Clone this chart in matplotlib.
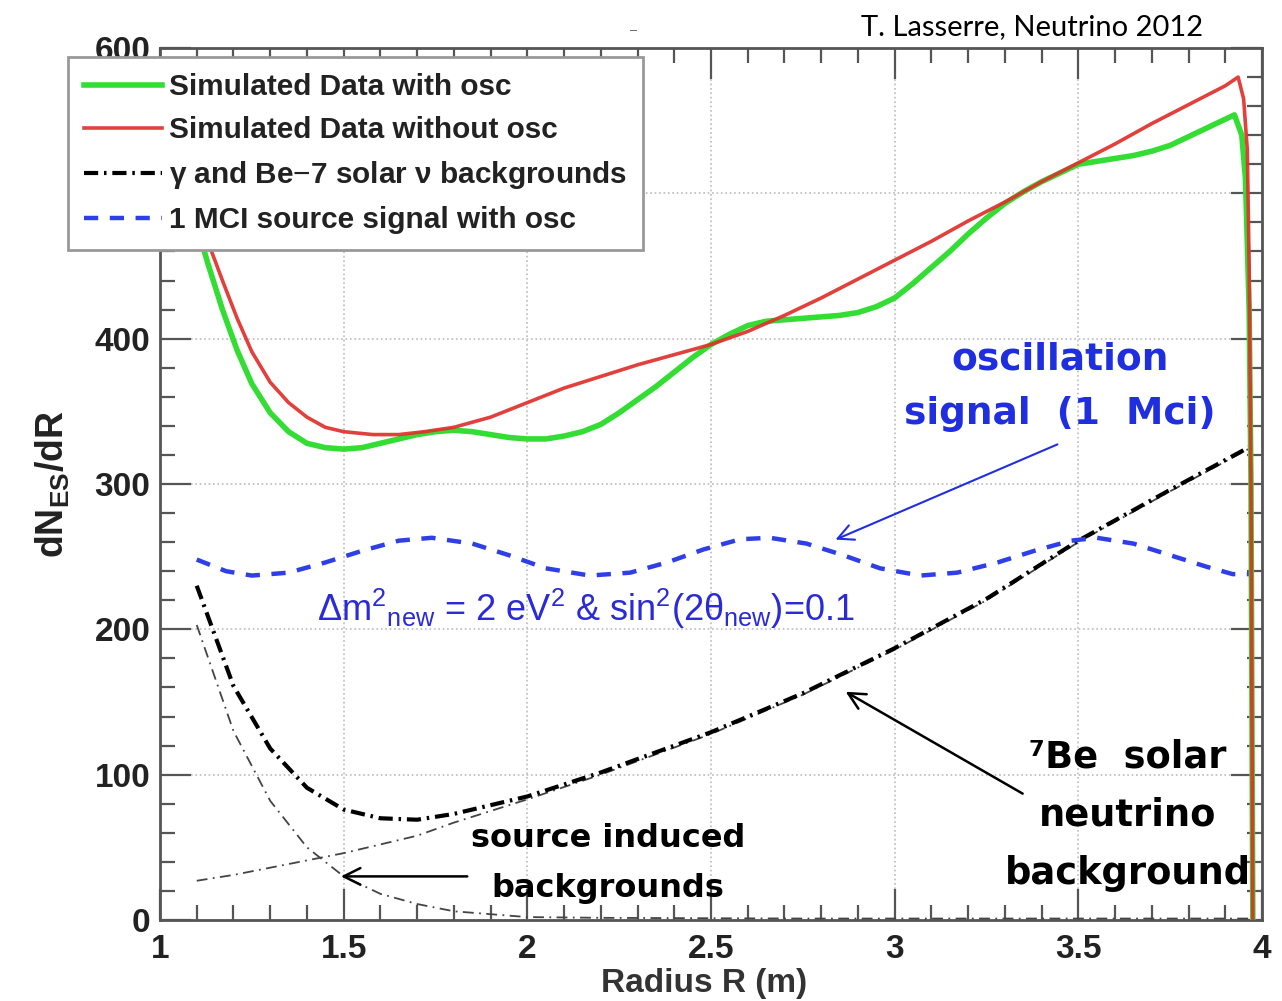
import numpy as np
import matplotlib
matplotlib.use("Agg")
import matplotlib.pyplot as plt
from matplotlib.ticker import MultipleLocator

plt.rcParams['font.family'] = ['Liberation Sans', 'DejaVu Sans']
plt.rcParams['mathtext.fontset'] = 'custom'
plt.rcParams['mathtext.rm'] = 'Liberation Sans'
plt.rcParams['mathtext.it'] = 'Liberation Sans:italic'
plt.rcParams['mathtext.bf'] = 'Liberation Sans:bold'

# Simulated data without oscillation (red)
r_red = [1.10, 1.13, 1.17, 1.21, 1.25, 1.30, 1.35, 1.40, 1.45, 1.50, 1.58, 1.65,
         1.72, 1.80, 1.90, 2.00, 2.10, 2.20, 2.30, 2.40, 2.50, 2.60, 2.70, 2.80,
         2.90, 3.00, 3.10, 3.20, 3.30, 3.40, 3.50, 3.60, 3.70, 3.80, 3.90, 3.935,
         3.95, 3.96, 3.965, 3.97, 3.975]
v_red = [492, 467, 440, 414, 391, 370, 356, 346, 339, 336, 334, 334,
         336, 339, 346, 356, 366, 374, 382, 389, 396, 405, 416, 428,
         441, 454, 467, 481, 494, 508, 521, 534, 548, 561, 574, 580,
         565, 530, 450, 300, 0]

# Simulated data with oscillation (green)
r_green = [1.10, 1.13, 1.17, 1.21, 1.25, 1.30, 1.35, 1.40, 1.45, 1.50, 1.55, 1.60,
           1.65, 1.70, 1.75, 1.80, 1.85, 1.90, 1.95, 2.00, 2.05, 2.10, 2.15, 2.20,
           2.25, 2.30, 2.35, 2.40, 2.45, 2.50, 2.55, 2.60, 2.65, 2.70, 2.75, 2.80,
           2.85, 2.90, 2.95, 3.00, 3.05, 3.10, 3.15, 3.20, 3.25, 3.30, 3.35, 3.40,
           3.45, 3.50, 3.55, 3.60, 3.65, 3.70, 3.75, 3.80, 3.85, 3.90, 3.925,
           3.945, 3.955, 3.965, 3.97, 3.975]
v_green = [478, 452, 420, 392, 369, 349, 336, 328, 325, 324, 325, 328,
           331, 334, 336, 337, 336, 334, 332, 331, 331, 333, 336, 341,
           349, 358, 367, 377, 387, 396, 403, 409, 412, 413, 414, 415,
           416, 418, 422, 428, 438, 449, 460, 472, 483, 493, 501, 508,
           514, 520, 522, 524, 526, 529, 533, 539, 545, 551, 554,
           540, 510, 420, 300, 0]

# 1 MCi source signal with oscillation (blue dashed)
r_sig = [1.10, 1.18, 1.25, 1.35, 1.45, 1.55, 1.65, 1.74, 1.85, 1.95, 2.05, 2.17,
         2.28, 2.38, 2.48, 2.58, 2.66, 2.76, 2.86, 2.96, 3.07, 3.17, 3.28, 3.38,
         3.48, 3.55, 3.65, 3.75, 3.85, 3.92, 3.97]
v_sig = [248, 240, 237, 239, 246, 254, 261, 263, 259, 251, 242, 237,
         239, 246, 255, 262, 263, 259, 251, 242, 237, 239, 246, 254,
         261, 263, 259, 251, 243, 238, 238]

# Backgrounds: source induced and Be-7 solar neutrinos
r_bkg = [1.10, 1.20, 1.30, 1.40, 1.50, 1.60, 1.70, 1.80, 1.90, 2.00, 2.20, 2.50,
         2.75, 3.00, 3.25, 3.50, 3.75, 3.97]
v_src = [203, 130, 82, 50, 30, 18, 11, 6, 4, 2, 1.5, 1.2,
         1.0, 1.0, 1.0, 1.0, 1.0, 1.0]
v_be7 = [27, 31, 36, 41, 46, 52, 58, 67, 75, 83, 100, 128,
         155, 186, 220, 260, 295, 325]

x_ticks = [1, 1.5, 2, 2.5, 3, 3.5, 4]
x_ticklabels = ['1', '1.5', '2', '2.5', '3', '3.5', '4']
y_ticks = [0, 100, 200, 300, 400, 500, 600]
y_ticklabels = ['0', '100', '200', '300', '400', '', '600']

W, H = 1282, 1001
fig = plt.figure(figsize=(W / 100, H / 100), dpi=100)
ax = fig.add_axes([160 / W, 1 - 920 / H, (1262 - 160) / W, (920 - 48) / H])

green = '#33dd33'
red = '#e0302c'
blue = '#2f3fe8'

v_tot = np.array(v_src) + np.array(v_be7)

ax.plot(r_bkg, v_src, color='#444444', lw=1.3, dashes=(6, 3, 1, 3), zorder=3)
ax.plot(r_bkg, v_be7, color='#444444', lw=1.3, dashes=(6, 3, 1, 3), zorder=3)
ax.plot(r_bkg, v_tot, color='black', lw=3.0, dashes=(3.4, 1.4, 0.6, 1.4), zorder=3,
        label=r'$\mathbf{\gamma}$ and Be$-$7 solar $\mathbf{\nu}$ backgrounds')
ax.plot(r_sig, v_sig, color=blue, lw=3.2, dashes=(3.2, 2.6), zorder=4,
        label='1 MCI source signal with osc')
ax.plot(r_green, v_green, color=green, lw=4.0, zorder=5, label='Simulated Data with osc')
ax.plot(r_red, v_red, color=red, lw=2.6, zorder=6, alpha=0.92, label='Simulated Data without osc')

ax.set_xlim(1, 4)
ax.set_ylim(0, 600)
ax.set_xticks(x_ticks)
ax.set_xticklabels(x_ticklabels)
ax.set_yticks(y_ticks)
ax.set_yticklabels(y_ticklabels)
ax.xaxis.set_minor_locator(MultipleLocator(0.1))
ax.yaxis.set_minor_locator(MultipleLocator(20))
ax.tick_params(which='both', direction='in', top=True, right=True, color='#555555', width=1.6)
ax.tick_params(which='major', length=22, labelsize=24, pad=7)
ax.tick_params(axis='x', which='major', pad=10)
ax.tick_params(which='minor', length=11)
for lab in ax.get_xticklabels() + ax.get_yticklabels():
    lab.set_fontweight('bold')
    lab.set_color('#222222')
for s in ax.spines.values():
    s.set_color('#555555')
    s.set_linewidth(2.0)
ax.grid(True, which='major', color='#bbbbbb', linestyle=':', linewidth=1.2)

ax.set_xlabel('Radius R (m)', fontsize=24, fontweight='bold', color='#333333', labelpad=5)
ax.xaxis.set_label_coords(0.494, -0.055)
ax.xaxis.label.set_va('top')
ax.set_ylabel(r'dN$_{\mathbf{ES}}$/dR', fontsize=27, fontweight='bold', color='#222222',
              labelpad=16)

handles, labels = ax.get_legend_handles_labels()
order = [2, 3, 0, 1]
leg = ax.legend([handles[i] for i in order], [labels[i] for i in order],
                loc='upper left', bbox_to_anchor=(68 / W, 1 - 57 / H),
                bbox_transform=fig.transFigure, borderaxespad=0,
                fancybox=False, framealpha=1, edgecolor='#999999',
                prop={'weight': 'bold', 'size': 21.4}, handlelength=2.6,
                handletextpad=0.25, labelspacing=0.5, borderpad=0.55)
leg.get_frame().set_linewidth(2.0)
leg.set_zorder(10)
for t in leg.get_texts():
    t.set_color('#222222')

comic = ['DejaVu Sans']
ax.text(3.45, 367, 'oscillation\nsignal  (1  Mci)', color='#1f2fe0', fontsize=27,
        fontweight='bold', family=comic, ha='center', va='center', linespacing=1.68, zorder=7)
ax.annotate('', xy=(2.832, 261), xytext=(3.45, 328),
            arrowprops=dict(arrowstyle='->', color='#1f2fe0', lw=1.5, mutation_scale=28), zorder=7)

ax.text(2.16, 214, '\u0394m$^{2}{}_{\\mathrm{new}}$ = 2 eV$^{2}$ & sin$^{2}$(2\u03b8${}_{\\mathrm{new}}$)=0.1',
        color='#2a2ad8', fontsize=26, ha='center', va='center', zorder=7)

ax.text(3.635, 72, '\u2077Be  solar\nneutrino\nbackground', color='black', fontsize=26.5,
        fontweight='bold', family=comic, ha='center', va='center', linespacing=1.72, zorder=7)
ax.annotate('', xy=(2.86, 158), xytext=(3.355, 86),
            arrowprops=dict(arrowstyle='->', color='black', lw=1.8, mutation_scale=30), zorder=7)

ax.text(2.22, 39, 'source induced\nbackgrounds', color='black', fontsize=23,
        fontweight='bold', family=comic, ha='center', va='center', linespacing=1.8, zorder=7)
ax.annotate('', xy=(1.485, 30), xytext=(1.844, 30),
            arrowprops=dict(arrowstyle='->', color='black', lw=1.8, mutation_scale=30), zorder=7)

fig.text(1032 / W, 1 - 27 / H, 'T. Lasserre, Neutrino 2012', fontsize=21, family=['Lato', 'DejaVu Sans'],
         ha='center', va='center', color='black')
fig.text(633 / W, 1 - 31 / H, '\u2013', fontsize=9, ha='center', va='center', color='#555555')

fig.savefig('out.png', dpi=100)
